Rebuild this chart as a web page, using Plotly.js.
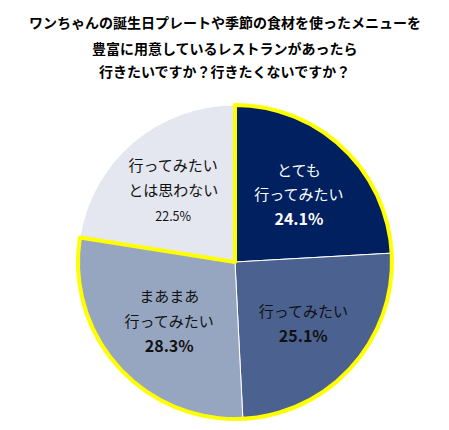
<!DOCTYPE html>
<html>
<head>
<meta charset="utf-8">
<script src="https://cdn.plot.ly/plotly-3.0.1.min.js"></script>
<style>
  html, body { margin: 0; padding: 0; background: #fff; }
  #chart { width: 449px; height: 430px; }
</style>
</head>
<body>
<div id="chart"></div>
<script>
// survey answers, clockwise from 12 o'clock
let labels = ['とても<br>行ってみたい', '行ってみたい', 'まあまあ<br>行ってみたい', '行ってみたい<br>とは思わない'];
let shares = [24.1, 25.1, 28.3, 22.5];
let slice_colors = ['#002060', '#4b6290', '#97a6c0', '#e4e7ef'];
let text_colors = ['#ffffff', '#111111', '#111111', '#111111'];
let title_lines = [
  'ワンちゃんの誕生日プレートや季節の食材を使ったメニューを',
  '豊富に用意しているレストランがあったら',
  '行きたいですか？行きたくないですか？'
];

// label text: name + percentage (last one small, not bold)
// the text element gets a big font so the lines sit further apart,
// each line is then set back to its own size
function sized(s, px) {
  return '<span style="font-size:' + px + 'px">' + s + '</span>';
}
let slice_text = [];
for (let i = 0; i < labels.length; i++) {
  let rows = labels[i].split('<br>').map(function(r) { return sized(r, 15); });
  let pct = shares[i].toFixed(1) + '%';
  if (i == labels.length - 1) {
    rows.push(sized(pct, 12.5));
  } else {
    rows.push('<b>' + sized(pct, 16) + '</b>');
  }
  slice_text.push(rows.join('<br>'));
}

// yellow outline goes round all the "want to go" answers together
let want_total = shares[0] + shares[1] + shares[2];
let outline_values = [want_total, shares[3]];

let pie_domain = {x: [0.1737, 0.873], y: [0.0256, 0.7558]};

let pie = {
  type: 'pie',
  values: shares,
  labels: labels,
  text: slice_text,
  textinfo: 'text',
  textposition: 'inside',
  insidetextorientation: 'horizontal',
  insidetextfont: {family: 'Noto Sans CJK JP, sans-serif', size: 19, color: text_colors},
  sort: false,
  direction: 'clockwise',
  rotation: 0,
  marker: {colors: slice_colors, line: {color: '#ffffff', width: 1}},
  domain: pie_domain,
  hoverinfo: 'skip'
};

let outline = {
  type: 'pie',
  values: outline_values,
  labels: ['want', 'not'],
  textinfo: 'none',
  sort: false,
  direction: 'clockwise',
  rotation: 0,
  marker: {
    colors: ['rgba(0,0,0,0)', 'rgba(0,0,0,0)'],
    line: {color: ['#ffff00', 'rgba(0,0,0,0)'], width: [4, 0]}
  },
  domain: pie_domain,
  hoverinfo: 'skip'
};

let title_y = [0.949, 0.888, 0.835];
let annotations = [];
for (let i = 0; i < title_lines.length; i++) {
  annotations.push({
    text: '<b>' + title_lines[i] + '</b>',
    xref: 'paper', yref: 'paper',
    x: 0.5, y: title_y[i],
    xanchor: 'center', yanchor: 'middle',
    showarrow: false,
    font: {family: 'Noto Sans CJK JP, sans-serif', size: 14, color: '#000000'}
  });
}

let layout = {
  width: 449,
  height: 430,
  margin: {l: 0, r: 0, t: 0, b: 0},
  showlegend: false,
  paper_bgcolor: '#ffffff',
  annotations: annotations
};

Plotly.newPlot('chart', [pie, outline], layout, {displayModeBar: false, staticPlot: true});
</script>
</body>
</html>
